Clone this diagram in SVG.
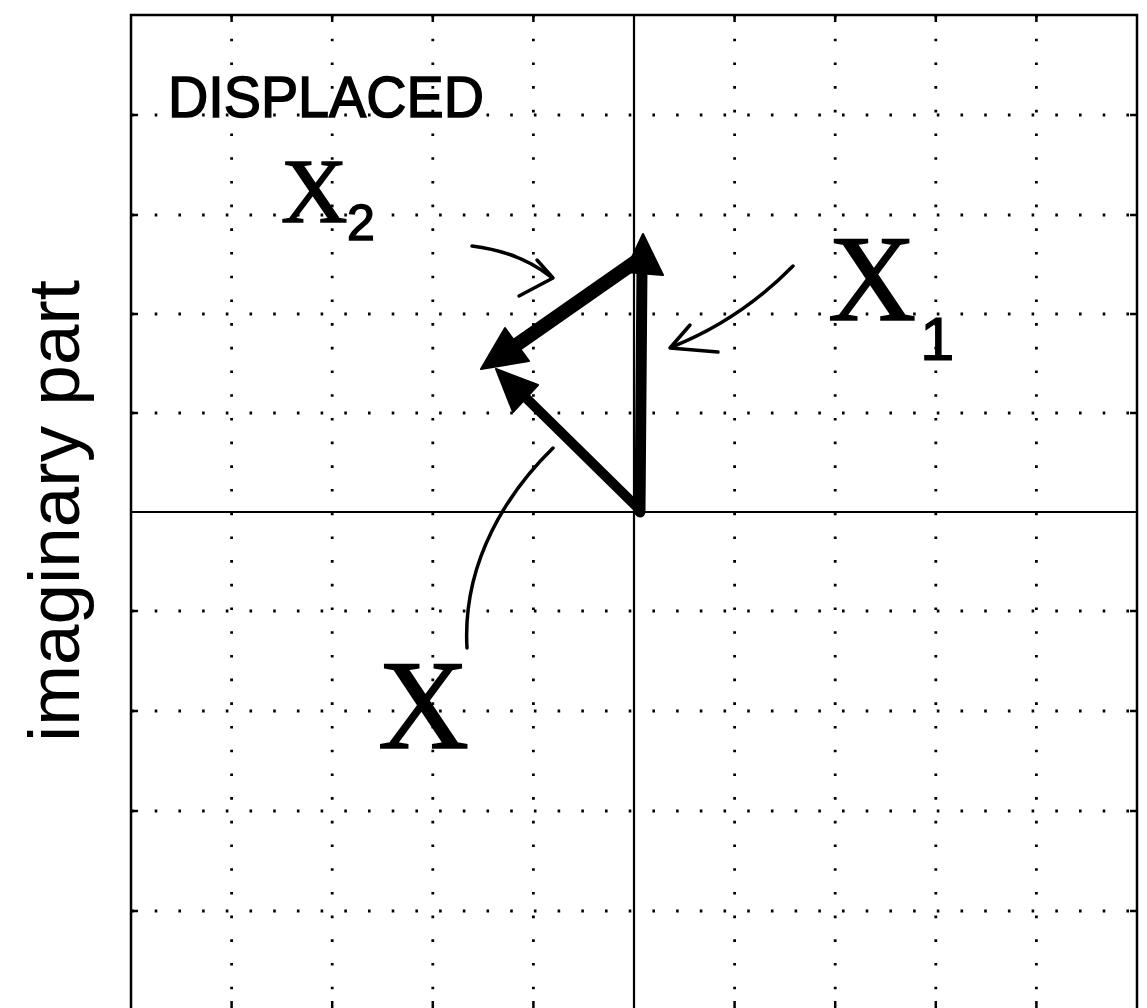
<svg xmlns="http://www.w3.org/2000/svg" width="1147" height="1008" viewBox="0 0 1147 1008">
<style>
.grid{stroke:#000;stroke-width:2.8;stroke-dasharray:2.6 21.1;fill:none}
.frame{stroke:#000;stroke-width:2.5;fill:none}
.tick{stroke:#000;stroke-width:2.5}
.axis{stroke:#000;stroke-width:2.2}
.vec{stroke:#000;stroke-linecap:round;fill:none}
.head{fill:#000;stroke:#000;stroke-width:2;stroke-linejoin:round}
.ptr{stroke:#000;stroke-width:3.5;fill:none;stroke-linecap:round;stroke-linejoin:round}
.hand{font-family:"Liberation Sans",Arial,sans-serif;fill:#000}
.xl{font-family:"Liberation Serif","Times New Roman",serif;fill:#000}
</style>
<rect width="1147" height="1008" fill="#fff"/>
<g id="grid">
<path class="grid" d="M231.6,15V1008M332.2,15V1008M432.8,15V1008M533.4,15V1008M734.6,15V1008M835.2,15V1008M935.8,15V1008M1036.4,15V1008"/>
<path class="grid" d="M131,115H1137M131,215H1137M131,314H1137M131,413H1137M131,611H1137M131,711H1137M131,811H1137M131,911H1137"/>
<path class="tick" d="M231.6,15v7M332.2,15v7M432.8,15v7M533.4,15v7M734.6,15v7M835.2,15v7M935.8,15v7M1036.4,15v7M231.6,1008v-7M332.2,1008v-7M432.8,1008v-7M533.4,1008v-7M734.6,1008v-7M835.2,1008v-7M935.8,1008v-7M1036.4,1008v-7M131,115h7M131,215h7M131,314h7M131,413h7M131,611h7M131,711h7M131,811h7M131,911h7M1137,115h-7M1137,215h-7M1137,314h-7M1137,413h-7M1137,611h-7M1137,711h-7M1137,811h-7M1137,911h-7"/>
<path class="axis" d="M634,15V1008M131,512H1137"/>
<path class="frame" d="M131,1010V15H1137V1010"/>
</g>
<g id="ylabel">
<text class="hand" transform="translate(79,511) rotate(-90)" text-anchor="middle" font-size="73" textLength="462" lengthAdjust="spacingAndGlyphs">imaginary part</text>
</g>
<g id="title">
<text class="hand" x="168" y="117" font-size="58" textLength="316" lengthAdjust="spacingAndGlyphs" stroke="#000" stroke-width="1.5">DISPLACED</text>
</g>
<g id="label-x2">
<text class="xl" x="281" y="222" font-size="92" stroke="#000" stroke-width="1.5">X</text>
<text class="hand" x="347" y="240" font-size="50" stroke="#000" stroke-width="1.5">2</text>
</g>
<g id="label-x1">
<text class="xl" x="828" y="320" font-size="122" stroke="#000" stroke-width="1.5">X</text>
<text class="hand" x="920" y="360" font-size="62" stroke="#000" stroke-width="1">1</text>
</g>
<g id="label-x">
<text class="xl" x="378" y="748" font-size="126" stroke="#000" stroke-width="1.5">X</text>
</g>
<g id="connectors">
<line class="vec" x1="640" y1="512" x2="642" y2="268" stroke-width="11"/>
<polygon class="head" points="643,234 663,275 625,272"/>
<line class="vec" x1="638" y1="260" x2="512" y2="348" stroke-width="14"/>
<polygon class="head" points="481,369 505,328 529,361"/>
<line class="vec" x1="637" y1="507" x2="520" y2="392" stroke-width="10"/>
<polygon class="head" points="496,369 538,385 513,412"/>
<path class="ptr" d="M472,246 Q520,252 551,277"/>
<polyline class="ptr" points="537,260 553,278 519,296"/>
<path class="ptr" d="M793,266 Q740,320 672,347"/>
<polyline class="ptr" points="690,325 670,348 718,352"/>
<path class="ptr" d="M553,448 C510,490 462,560 467,648"/>
</g>
</svg>
